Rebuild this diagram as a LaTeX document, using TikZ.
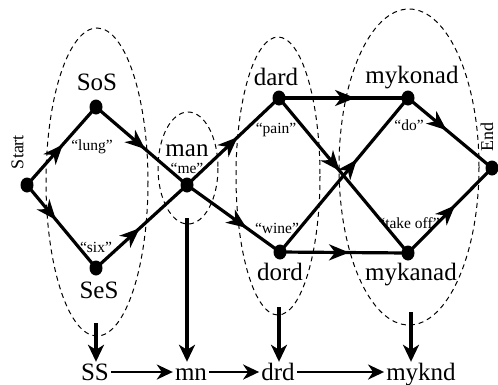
\documentclass[tikz,border=0pt]{standalone}
\usepackage{fontspec}
\setmainfont{Liberation Serif}
\usetikzlibrary{arrows.meta,decorations.markings,shapes.geometric}
\begin{document}
\begin{tikzpicture}[x=1pt,y=-1pt,
  dot/.style={ellipse,fill=black,inner sep=0pt,minimum width=13pt,minimum height=15pt},
  big/.style={font=\fontsize{25}{25}\selectfont,inner sep=0pt,anchor=base},
  small/.style={font=\fontsize{15.5}{15.5}\selectfont,inner sep=0pt,anchor=base},
  side/.style={font=\fontsize{18}{18}\selectfont,inner sep=0pt,rotate=90},
  bottom/.style={font=\fontsize{25}{25}\selectfont,inner sep=2pt,anchor=base,text height=16pt,text depth=0pt},
  edge/.style={line width=3.2pt},
  midarrow/.style={edge,postaction={decorate},decoration={markings,mark=at position #1 with {\arrow{Stealth[length=20pt,width=16pt,inset=6pt]}}}},
  group/.style={line width=1pt,dash pattern=on 5pt off 4pt},
  down/.style={line width=3.2pt,-{Stealth[length=17pt,width=16pt,inset=5pt]}},
  flow/.style={line width=2.6pt,-{Stealth[length=16pt,width=15pt,inset=5pt]}}
]
\fill[white] (0,0) rectangle (498,384);
\useasboundingbox (0,0) rectangle (498,384);

% dashed groups
\draw[group] (97,182) ellipse [x radius=51, y radius=154];
\draw[group] (188,168) ellipse [x radius=30, y radius=56];
\draw[group] (278,176) ellipse [x radius=42, y radius=139];
\draw[group] (409,167) ellipse [x radius=70, y radius=158];

% states
\node[dot] (start) at (27,185) {};
\node[dot] (sos) at (96,107) {};
\node[dot] (ses) at (96,268) {};
\node[dot] (man) at (187,185) {};
\node[dot] (dard) at (279,98) {};
\node[dot] (dord) at (280,252) {};
\node[dot] (mykonad) at (408,98) {};
\node[dot] (mykanad) at (408,253) {};
\node[dot] (end) at (492,168) {};

% transitions
\draw[midarrow=0.52] (start.center) -- (sos.center);
\draw[midarrow=0.42] (start.center) -- (ses.center);
\draw[midarrow=0.54] (sos.center) -- (man.center);
\draw[midarrow=0.48] (ses.center) -- (man.center);
\draw[midarrow=0.55] (man.center) -- (dard.center);
\draw[midarrow=0.64] (man.center) -- (dord.center);
\draw[midarrow=0.59] (dard.center) -- (mykonad.center);
\draw[midarrow=0.47] (dard.center) -- (mykanad.center);
\draw[midarrow=0.6] (dord.center) -- (mykonad.center);
\draw[midarrow=0.54] (dord.center) -- (mykanad.center);
\draw[midarrow=0.46] (mykonad.center) -- (end.center);
\draw[midarrow=0.56] (mykanad.center) -- (end.center);

% labels
\node[side] (lstart) at (17.5,152) {Start};
\node[side] (lend) at (487,137) {End};
\node[big] (lsos) at (97,90) {SoS};
\node[big] (lses) at (99,298) {SeS};
\node[big] (lman) at (187,156) {man};
\node[big] (ldard) at (276,85) {dard};
\node[big] (ldord) at (280,280) {dord};
\node[big] (lmykonad) at (412,83) {mykonad};
\node[big] (lmykanad) at (411,280) {mykanad};
\node[small] (qlung) at (92,150) {“lung”};
\node[small] (qsix) at (96,252) {“six”};
\node[small] (qme) at (187,173) {“me”};
\node[small] (qpain) at (276,133) {“pain”};
\node[small] (qwine) at (277,233) {“wine”};
\node[small] (qdo) at (409,130) {“do”};
\node[small] (qtake) at (409,228) {“take off”};

% bottom row
\node[bottom] (SS) at (95,380) {SS};
\node[bottom] (mn) at (191,380) {mn};
\node[bottom] (drd) at (278,380) {drd};
\node[bottom] (myknd) at (421,380) {myknd};

\coordinate (d1) at (96,323);
\coordinate (d2) at (187,218);
\coordinate (d3) at (279,307);
\coordinate (d4) at (411,312);
\draw[down] (d1) -- (d1 |- SS.north);
\draw[down] (d2) -- (d2 |- mn.north);
\draw[down] (d3) -- (d3 |- drd.north);
\draw[down] (d4) -- (d4 |- myknd.north);

\draw[flow] (SS.east) -- (mn.west);
\draw[flow] (mn.east) -- (drd.west);
\draw[flow] (drd.east) -- (myknd.west);
\end{tikzpicture}
\end{document}
